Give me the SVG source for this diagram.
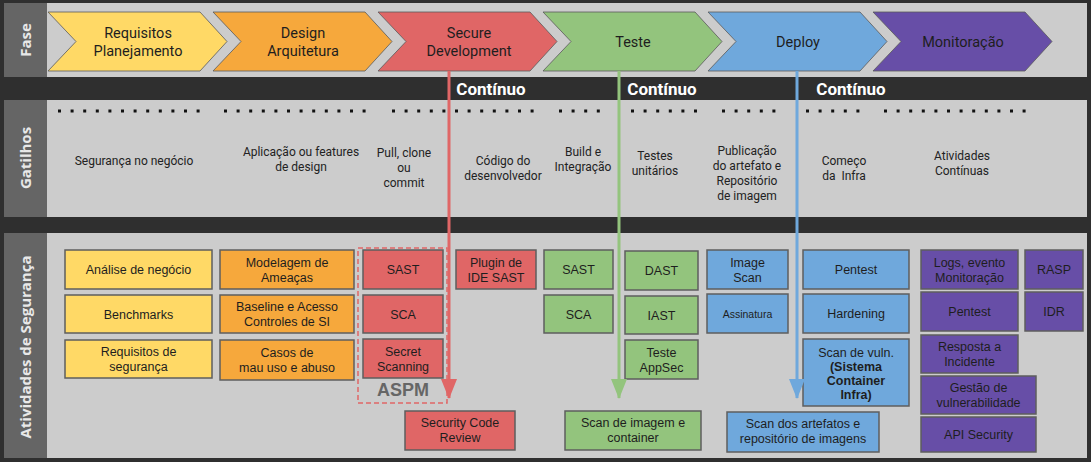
<svg xmlns="http://www.w3.org/2000/svg" width="1091" height="462" viewBox="0 0 1091 462">
<style>
.bg{fill:#2f2f2f}
.panel{fill:#cccccc}
.side{fill:#656565}
.sidet{font-family:"Open Sans","DejaVu Sans",sans-serif;font-weight:bold;font-size:15px;fill:#e8e8e8;text-anchor:middle}
.chev{stroke:#5a5a5a;stroke-width:0.8}
.ct{font-family:Roboto,"Noto Sans",sans-serif;font-size:14.5px;fill:#1e1e1e;text-anchor:middle}
.cont{font-family:Roboto,"Noto Sans",sans-serif;font-weight:bold;font-size:17px;fill:#ffffff;text-anchor:middle}
.gt{font-family:Roboto,"Noto Sans",sans-serif;font-size:12px;fill:#222;text-anchor:middle}
.dots{stroke:#111;stroke-width:3;stroke-dasharray:3 9.6;fill:none}
.box{stroke:#5e5e5e;stroke-width:1.5}
.bt{font-family:"Liberation Sans",Arial,sans-serif;font-size:12.5px;fill:#1e1e1e;text-anchor:middle}
.sm{font-size:10.5px}
.bd{font-weight:bold}
.y{fill:#ffd966}.o{fill:#f6a83c}.r{fill:#e06666}.g{fill:#93c47d}.b{fill:#6fa8dc}.p{fill:#674ea7}
.conn{stroke-width:3;fill:none}
</style>
<defs>
<marker id="ar" markerUnits="userSpaceOnUse" markerWidth="20" markerHeight="16" refX="19" refY="8" orient="auto" viewBox="0 0 20 16"><polygon points="0,0 20,8 0,16" fill="#e06666"/></marker>
<marker id="ag" markerUnits="userSpaceOnUse" markerWidth="20" markerHeight="16" refX="19" refY="8" orient="auto" viewBox="0 0 20 16"><polygon points="0,0 20,8 0,16" fill="#93c47d"/></marker>
<marker id="ab" markerUnits="userSpaceOnUse" markerWidth="20" markerHeight="16" refX="19" refY="8" orient="auto" viewBox="0 0 20 16"><polygon points="0,0 20,8 0,16" fill="#6fa8dc"/></marker>
</defs>
<rect class="bg" x="0" y="0" width="1091" height="462"/>
<!-- bands -->
<g id="band-fase">
<rect class="panel" x="47" y="3" width="1040" height="74"/>
<rect class="side" x="4" y="3" width="43" height="74"/>
<text class="sidet" transform="translate(31,40) rotate(-90)">Fase</text>
</g>
<g id="band-gatilhos">
<rect class="panel" x="47" y="100" width="1040" height="117"/>
<rect class="side" x="4" y="100" width="43" height="117"/>
<text class="sidet" transform="translate(31,158) rotate(-90)">Gatilhos</text>
</g>
<g id="band-atividades">
<rect class="panel" x="47" y="233" width="1040" height="225"/>
<rect class="side" x="4" y="233" width="43" height="225"/>
<text class="sidet" transform="translate(31,347) rotate(-90)">Atividades de Segurança</text>
</g>
<!-- phases -->
<g id="fase-requisitos"><polygon class="chev y" points="48,12 200,12 227,41.5 200,71 48,71 76,41.5"/><text class="ct" x="138" y="38">Requisitos</text><text class="ct" x="138" y="56">Planejamento</text></g>
<g id="fase-design"><polygon class="chev o" points="213,12 365,12 392,41.5 365,71 213,71 241,41.5"/><text class="ct" x="303" y="38">Design</text><text class="ct" x="303" y="56">Arquitetura</text></g>
<g id="fase-secure"><polygon class="chev r" points="378,12 530,12 557,41.5 530,71 378,71 406,41.5"/><text class="ct" x="469" y="38">Secure</text><text class="ct" x="469" y="56">Development</text></g>
<g id="fase-teste"><polygon class="chev g" points="543,12 695,12 722,41.5 695,71 543,71 571,41.5"/><text class="ct" x="633" y="47">Teste</text></g>
<g id="fase-deploy"><polygon class="chev b" points="708,12 860,12 887,41.5 860,71 708,71 736,41.5"/><text class="ct" x="798" y="47">Deploy</text></g>
<g id="fase-monitoracao"><polygon class="chev p" points="873,12 1025,12 1052,41.5 1025,71 873,71 901,41.5"/><text class="ct" x="963" y="47">Monitoração</text></g>
<!-- continuo labels -->
<g id="continuo">
<text class="cont" x="491" y="95">Contínuo</text>
<text class="cont" x="662" y="95">Contínuo</text>
<text class="cont" x="851" y="95">Contínuo</text>
</g>
<!-- triggers -->
<g id="gatilhos-dots">
<line class="dots" x1="58" y1="111" x2="201" y2="111"/>
<line class="dots" x1="224" y1="111" x2="370" y2="111"/>
<line class="dots" x1="392" y1="111" x2="538" y2="111"/>
<line class="dots" x1="559" y1="111" x2="608" y2="111"/>
<line class="dots" x1="631" y1="111" x2="706" y2="111"/>
<line class="dots" x1="722" y1="111" x2="783" y2="111"/>
<line class="dots" x1="806" y1="111" x2="867" y2="111"/>
<line class="dots" x1="884" y1="111" x2="1029" y2="111"/>
</g>
<g id="gat-negocio"><text class="gt" x="134" y="165">Segurança no negócio</text></g>
<g id="gat-design"><text class="gt" x="301" y="156">Aplicação ou features</text><text class="gt" x="301" y="171">de design</text></g>
<g id="gat-pull"><text class="gt" x="404" y="157">Pull, clone</text><text class="gt" x="404" y="172">ou</text><text class="gt" x="404" y="187">commit</text></g>
<g id="gat-codigo"><text class="gt" x="503" y="165">Código do</text><text class="gt" x="503" y="180">desenvolvedor</text></g>
<g id="gat-build"><text class="gt" x="583" y="156">Build e</text><text class="gt" x="583" y="171">Integração</text></g>
<g id="gat-testes"><text class="gt" x="655" y="160">Testes</text><text class="gt" x="655" y="175">unitários</text></g>
<g id="gat-publicacao"><text class="gt" x="747" y="155">Publicação</text><text class="gt" x="747" y="170">do artefato e</text><text class="gt" x="747" y="185">Repositório</text><text class="gt" x="747" y="200">de imagem</text></g>
<g id="gat-infra"><text class="gt" x="844" y="165">Começo</text><text class="gt" x="844" y="180" xml:space="preserve">da  Infra</text></g>
<g id="gat-continuas"><text class="gt" x="962" y="160">Atividades</text><text class="gt" x="962" y="175">Contínuas</text></g>
<!-- activities -->
<g id="a-analise"><rect class="box y" x="65" y="250" width="147" height="39"/><text class="bt" x="138.5" y="274">Análise de negócio</text></g>
<g id="a-benchmarks"><rect class="box y" x="65" y="295" width="147" height="38"/><text class="bt" x="138.5" y="318.5">Benchmarks</text></g>
<g id="a-requisitos"><rect class="box y" x="65" y="340" width="147" height="38"/><text class="bt" x="138.5" y="356">Requisitos de</text><text class="bt" x="138.5" y="371">segurança</text></g>
<g id="a-modelagem"><rect class="box o" x="220" y="250" width="134" height="39"/><text class="bt" x="287" y="266.5">Modelagem de</text><text class="bt" x="287" y="281.5">Ameaças</text></g>
<g id="a-baseline"><rect class="box o" x="220" y="295" width="134" height="38"/><text class="bt" x="287" y="311">Baseline e Acesso</text><text class="bt" x="287" y="326">Controles de SI</text></g>
<g id="a-casos"><rect class="box o" x="220" y="340" width="134" height="40"/><text class="bt" x="287" y="357">Casos de</text><text class="bt" x="287" y="372">mau uso e abuso</text></g>
<g id="aspm"><rect x="358" y="248" width="89" height="155" fill="none" stroke="#e06666" stroke-width="1.5" stroke-dasharray="5 3"/><text x="403" y="396" font-family="'Liberation Sans',Arial,sans-serif" font-weight="bold" font-size="18" fill="#666" text-anchor="middle">ASPM</text></g>
<g id="a-sast-r"><rect class="box r" x="363" y="250" width="80" height="39"/><text class="bt" x="403" y="274">SAST</text></g>
<g id="a-sca-r"><rect class="box r" x="363" y="295" width="80" height="38"/><text class="bt" x="403" y="318.5">SCA</text></g>
<g id="a-secret"><rect class="box r" x="363" y="339" width="80" height="39"/><text class="bt" x="403" y="356">Secret</text><text class="bt" x="403" y="371">Scanning</text></g>
<g id="a-plugin"><rect class="box r" x="456" y="250" width="80" height="39"/><text class="bt" x="496" y="266.5">Plugin de</text><text class="bt" x="496" y="281.5">IDE SAST</text></g>
<g id="a-scr"><rect class="box r" x="405" y="411" width="110" height="39"/><text class="bt" x="460" y="427">Security Code</text><text class="bt" x="460" y="442">Review</text></g>
<g id="a-sast-g"><rect class="box g" x="544" y="250" width="69" height="39"/><text class="bt" x="578.5" y="274">SAST</text></g>
<g id="a-sca-g"><rect class="box g" x="544" y="295" width="69" height="38"/><text class="bt" x="578.5" y="318.5">SCA</text></g>
<g id="a-dast"><rect class="box g" x="625" y="251" width="73" height="39"/><text class="bt" x="661.5" y="275">DAST</text></g>
<g id="a-iast"><rect class="box g" x="625" y="296" width="73" height="38"/><text class="bt" x="661.5" y="319.5">IAST</text></g>
<g id="a-appsec"><rect class="box g" x="625" y="340" width="73" height="39"/><text class="bt" x="661.5" y="357">Teste</text><text class="bt" x="661.5" y="372">AppSec</text></g>
<g id="a-scanimg"><rect class="box g" x="565" y="411" width="136" height="39"/><text class="bt" x="633" y="427">Scan de imagem e</text><text class="bt" x="633" y="442">container</text></g>
<g id="a-imagescan"><rect class="box b" x="707" y="250" width="81" height="39"/><text class="bt" x="747.5" y="266.5">Image</text><text class="bt" x="747.5" y="281.5">Scan</text></g>
<g id="a-assinatura"><rect class="box b" x="707" y="294" width="81" height="39"/><text class="bt sm" x="747.5" y="317.5">Assinatura</text></g>
<g id="a-pentest-b"><rect class="box b" x="803" y="250" width="106" height="39"/><text class="bt" x="856" y="274">Pentest</text></g>
<g id="a-hardening"><rect class="box b" x="803" y="294" width="106" height="39"/><text class="bt" x="856" y="318">Hardening</text></g>
<g id="a-scanvuln"><rect class="box b" x="803" y="339" width="106" height="67"/><text class="bt" x="856" y="357">Scan de vuln.</text><text class="bt bd" x="856" y="371">(Sistema</text><text class="bt bd" x="856" y="385">Container</text><text class="bt bd" x="856" y="399">Infra)</text></g>
<g id="a-scanartefatos"><rect class="box b" x="727" y="412" width="152" height="40"/><text class="bt" x="803" y="428">Scan dos artefatos e</text><text class="bt" x="803" y="443">repositório de imagens</text></g>
<g id="a-logs"><rect class="box p" x="921" y="250" width="97" height="39"/><text class="bt" x="969.5" y="266.5">Logs, evento</text><text class="bt" x="969.5" y="281.5">Monitoração</text></g>
<g id="a-rasp"><rect class="box p" x="1025" y="250" width="58" height="39"/><text class="bt" x="1054" y="274">RASP</text></g>
<g id="a-pentest-p"><rect class="box p" x="921" y="292" width="97" height="39"/><text class="bt" x="969.5" y="316">Pentest</text></g>
<g id="a-idr"><rect class="box p" x="1025" y="292" width="58" height="39"/><text class="bt" x="1054" y="316">IDR</text></g>
<g id="a-resposta"><rect class="box p" x="921" y="335" width="97" height="38"/><text class="bt" x="969.5" y="351">Resposta a</text><text class="bt" x="969.5" y="366">Incidente</text></g>
<g id="a-gestao"><rect class="box p" x="921" y="376" width="115" height="38"/><text class="bt" x="978.5" y="392">Gestão de</text><text class="bt" x="978.5" y="407">vulnerabilidade</text></g>
<g id="a-api"><rect class="box p" x="921" y="417" width="115" height="35"/><text class="bt" x="978.5" y="438.5">API Security</text></g>
<!-- connectors -->
<g id="connectors">
<line class="conn" x1="449" y1="71" x2="449" y2="398" stroke="#e06666" marker-end="url(#ar)"/>
<line class="conn" x1="619" y1="71" x2="619" y2="398" stroke="#93c47d" marker-end="url(#ag)"/>
<line class="conn" x1="797" y1="71" x2="797" y2="398" stroke="#6fa8dc" marker-end="url(#ab)"/>
</g>
</svg>
